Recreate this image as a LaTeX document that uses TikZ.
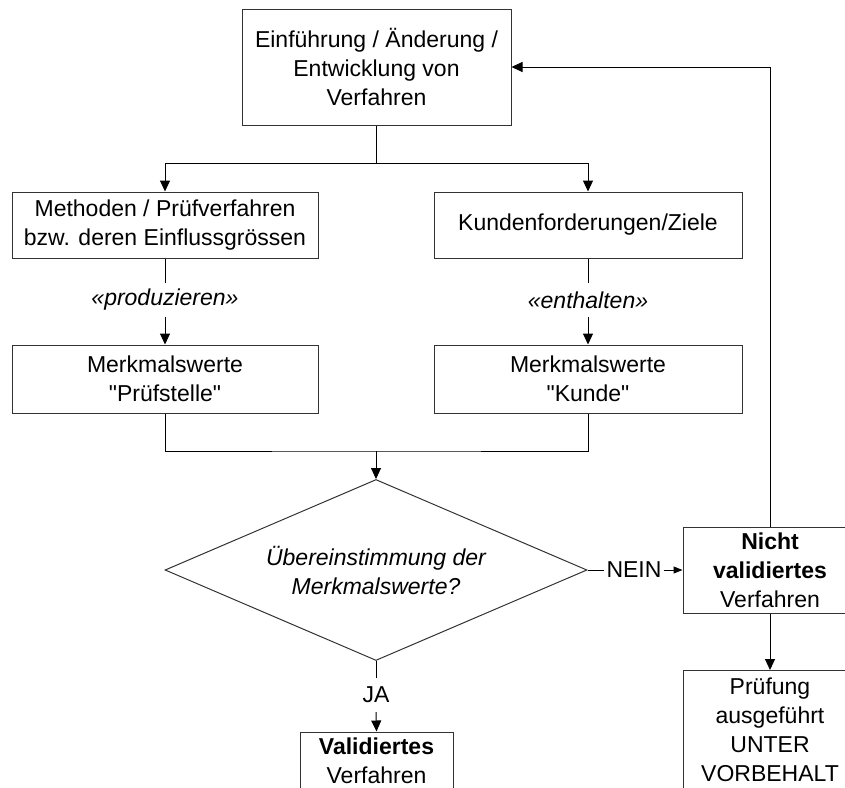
\documentclass[tikz,border=0pt]{standalone}
\usepackage{fontspec}
\setmainfont{Liberation Sans}
\usetikzlibrary{shapes.geometric,arrows.meta,calc}
\begin{document}
\begin{tikzpicture}[x=1pt,y=-1pt,
  every node/.style={font=\fontsize{23}{29}\selectfont},
  box/.style={draw=black!80,line width=1pt,align=center,inner sep=0pt,minimum height=66pt},
  lbl/.style={inner sep=0pt,minimum height=34pt,align=center},
  con/.style={line width=1pt,black},
  arr/.style={con,-{Triangle[length=11pt,width=10pt]}},
  sarr/.style={con,-{Triangle[length=9pt,width=7pt]}}]
\useasboundingbox (0,0) rectangle (845,787);
\begin{scope}
\clip (0,0) rectangle (845,787);
\node[box,minimum width=269pt,minimum height=116pt] (top) at (376.5,67) {Einführung / Änderung /\\Entwicklung von\\Verfahren};
\node[box,minimum width=306pt] (m1) at (165,225) {Methoden / Prüfverfahren\\bzw. deren Einflussgrössen};
\node[box,minimum width=308pt] (k1) at (588,225) {Kundenforderungen/Ziele};
\node[lbl] (lp) at (165,300) {\itshape «produzieren»};
\node[lbl] (le) at (588,300) {\itshape «enthalten»};
\node[box,minimum width=306pt,minimum height=68pt] (m2) at (165,379) {Merkmalswerte\\\textquotedbl Prüfstelle\textquotedbl};
\node[box,minimum width=308pt,minimum height=68pt] (k2) at (588,379) {Merkmalswerte\\\textquotedbl Kunde\textquotedbl};
\node[draw=black!80,line width=1pt,shape=diamond,aspect=2.33,inner sep=0pt,minimum width=422pt,minimum height=181pt,align=center] (dia) at (376,570) {\itshape Übereinstimmung der\\\itshape Merkmalswerte?};
\node[inner sep=2pt] (nein) at (634,570) {NEIN};
\node[box,minimum width=174pt,minimum height=86pt] (nv) at (770,570) {\bfseries Nicht\\\bfseries validiertes\\Verfahren};
\node[box,minimum width=174pt,minimum height=119pt] (pr) at (770,730) {Prüfung\\ausgeführt\\UNTER\\VORBEHALT};
\node[lbl] (ja) at (376,695) {JA};
\node[box,minimum width=153pt,minimum height=58pt] (va) at (376.5,761) {\bfseries Validiertes\\Verfahren};

\coordinate (split) at ($(top.south)+(0,38)$);
\draw[con] (top.south) -- (split);
\draw[arr] (split) -| (m1.north);
\draw[arr] (split) -| (k1.north);
\draw[con] (m1.south) -- (lp.north);
\draw[arr] (lp.south) -- (m2.north);
\draw[con] (k1.south) -- (le.north);
\draw[arr] (le.south) -- (k2.north);
\coordinate (join) at (dia.north |- 0,451);
\draw[con] (m2.south) |- (join) -| (k2.south);
\draw[arr] (join) -- (dia.north);
\draw[con] (dia.east) -- (nein.west);
\draw[sarr] (nein.east) -- (nv.west);
\draw[arr] (nv.north) |- (top.east);
\draw[arr] (nv.south) -- (pr.north);
\draw[con] (dia.south) -- (ja.north);
\draw[arr] (ja.south) -- (va.north);
\end{scope}
\end{tikzpicture}
\end{document}
